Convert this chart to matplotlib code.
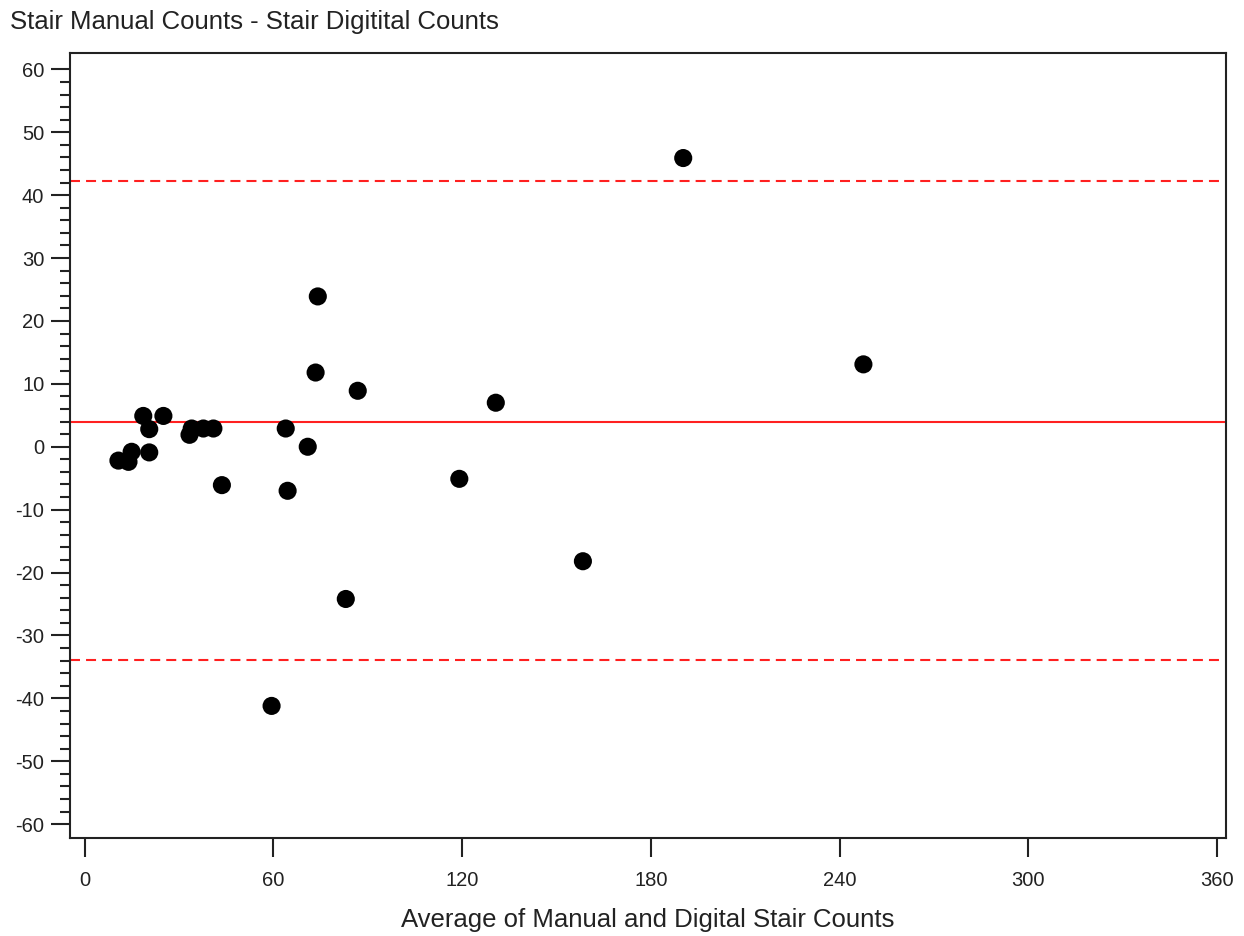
import matplotlib.pyplot as plt
from matplotlib.ticker import FixedLocator

plt.rcParams['font.family'] = ['Liberation Sans', 'DejaVu Sans']
plt.rcParams['axes.unicode_minus'] = False

# average of the two counts (x) and their difference (y)
avg_counts = [10.7, 13.9, 14.9, 18.6, 20.5, 20.5, 25.0, 33.3, 34.0, 37.7,
              40.9, 43.6, 63.9, 64.5, 70.9, 86.8, 74.1, 73.4, 83.0, 59.4,
              119.1, 130.7, 158.4, 190.3, 247.6]
diff_counts = [-2.2, -2.4, -0.8, 4.9, 2.8, -0.9, 4.9, 1.9, 2.9, 2.9,
               2.9, -6.1, 2.9, -7.0, 0.0, 8.9, 23.9, 11.8, -24.2, -41.2,
               -5.1, 7.0, -18.2, 45.9, 13.1]

mean_diff = 4.0
upper_loa = 42.3
lower_loa = -33.9

x_ticks = [0, 60, 120, 180, 240, 300, 360]
y_ticks = [-60, -50, -40, -30, -20, -10, 0, 10, 20, 30, 40, 50, 60]
y_minor = [v for v in range(-60, 61, 2) if v % 10 != 0]

fig = plt.figure(figsize=(12.44, 9.36), dpi=100)
ax = fig.add_axes([70 / 1244, 1 - 838 / 936, (1226 - 70) / 1244, (838 - 53) / 936])

ax.axhline(mean_diff, color='#ff2020', lw=1.5, zorder=1)
ax.axhline(upper_loa, color='#ff2020', lw=1.5, linestyle=(0, (4.8, 2.9)), zorder=1)
ax.axhline(lower_loa, color='#ff2020', lw=1.5, linestyle=(0, (4.8, 2.9)), zorder=1)

ax.scatter(avg_counts, diff_counts, s=170, color='black', edgecolors='none', zorder=3)

ax.set_xlim(-4.7, 362.9)
ax.set_ylim(-62.2, 62.6)
ax.set_xticks(x_ticks)
ax.set_yticks(y_ticks)
ax.yaxis.set_minor_locator(FixedLocator(y_minor))

for s in ax.spines.values():
    s.set_linewidth(1.5)
    s.set_color('#222222')

ax.tick_params(axis='both', which='major', length=13.5, width=1.5, color='#222222',
               labelsize=14.5, labelcolor='#222222', pad=5)
ax.tick_params(axis='x', which='major', pad=10)
ax.tick_params(axis='y', which='minor', length=7, width=1.5, color='#222222')

ax.set_xlabel('Average of Manual and Digital Stair Counts', fontsize=18.5,
              color='#222222', labelpad=13)
fig.text(10 / 1244, 1 - 29 / 936, 'Stair Manual Counts - Stair Digitital Counts',
         fontsize=18.5, color='#222222', va='baseline', ha='left')

fig.savefig('out.png', dpi=100)
